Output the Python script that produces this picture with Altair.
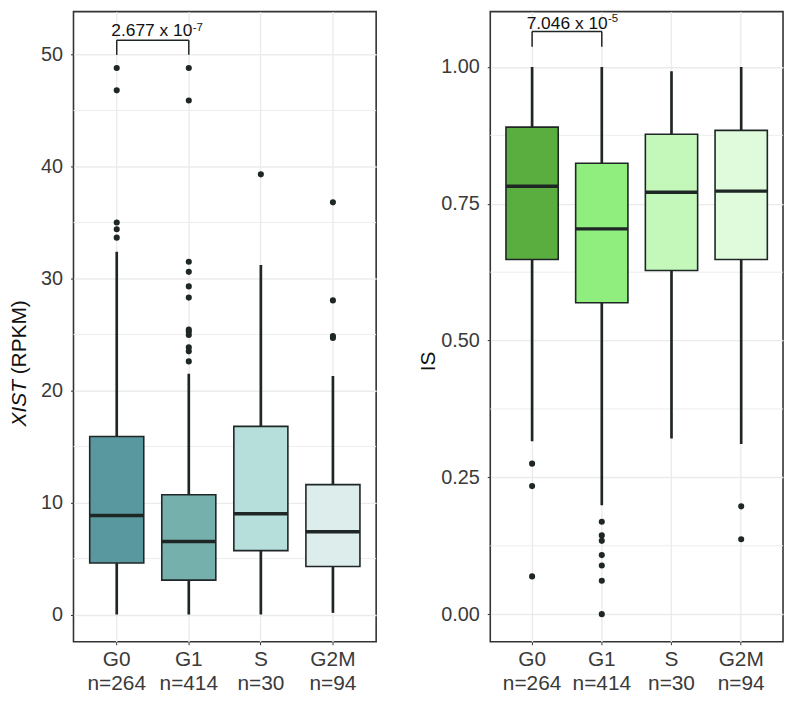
import altair as alt
import pandas as pd

# ---------------- data ----------------
cats = ["G0", "G1", "S", "G2M"]
counts = [264, 414, 30, 94]

# XIST (RPKM) box statistics
xist_low = [0.0, 0.0, 0.0, 0.15]
xist_q1 = [4.6, 3.07, 5.71, 4.29]
xist_med = [8.84, 6.52, 9.0, 7.39]
xist_q3 = [15.9, 10.7, 16.8, 11.6]
xist_high = [32.4, 21.5, 31.2, 21.3]
xist_out_G0 = [48.8, 46.8, 35.0, 34.4, 33.65]
xist_out_G1 = [48.8, 45.9, 31.5, 30.6, 29.3, 28.3, 25.45, 25.25, 24.96, 23.85, 23.5, 22.6]
xist_out_S = [39.3]
xist_out_G2M = [36.8, 28.05, 24.87, 24.7]
xist_major = [0, 10, 20, 30, 40, 50]
xist_minor = [5, 15, 25, 35, 45]
xist_p_main = "2.677 x 10"
xist_p_exp = "-7"

# IS box statistics
is_low = [0.316, 0.199, 0.321, 0.311]
is_q1 = [0.648, 0.569, 0.628, 0.648]
is_med = [0.782, 0.704, 0.771, 0.773]
is_q3 = [0.890, 0.824, 0.877, 0.884]
is_high = [1.0, 1.0, 0.992, 1.0]
is_out_G0 = [0.275, 0.234, 0.069]
is_out_G1 = [0.169, 0.144, 0.134, 0.108, 0.089, 0.061, 0.0]
is_out_S = []
is_out_G2M = [0.197, 0.137]
is_major = [0.0, 0.25, 0.5, 0.75, 1.0]
is_minor = [0.125, 0.375, 0.625, 0.875]
is_p_main = "7.046 x 10"
is_p_exp = "-5"

xist_colors = ["#5A98A0", "#75B0AD", "#B6DEDA", "#DCEDEB"]
is_colors = ["#5AAE40", "#90EE7E", "#C3F8BA", "#E0FBDB"]

DARK = "#1f2626"
FONT = "Liberation Sans"
PAD_IN, PAD_OUT = 0.25, 0.225
H = 635

label_expr = " : ".join(
    f"datum.label == '{c}' ? ['{c}', 'n={n}']" for c, n in zip(cats, counts)
) + " : datum.label"


def panel(name, low, q1, med, q3, high, outs, colors, major, minor, fmt, domain,
          br_top, br_bot, txt_y, sup_y, p_main, p_exp, width, height,
          ytitle=None, title_x=0, title_y=0):
    box = pd.DataFrame({name: cats, "low": low, "q1": q1, "med": med, "q3": q3, "high": high})
    pts = pd.DataFrame(
        [{name: c, "v": v} for c, vals in zip(cats, outs) for v in vals]
    )
    mn = pd.DataFrame({"v": minor})
    bandw = width / (len(cats) - PAD_IN + 2 * PAD_OUT) * (1 - PAD_IN)

    xscale = alt.Scale(domain=cats, paddingInner=PAD_IN, paddingOuter=PAD_OUT)
    xaxis = alt.Axis(title=None, labelExpr=label_expr, labelFontSize=21,
                     labelLineHeight=24, labelPadding=4, labelAngle=0,
                     grid=True, tickSize=3)

    def X(f):
        return alt.X(f, type="nominal", scale=xscale, axis=xaxis)

    ykw = dict(values=major, format=fmt, labelFontSize=20, labelPadding=8,
               tickSize=3, grid=True)
    if ytitle:
        yaxis = alt.Axis(title=ytitle, titleX=title_x, titleY=title_y, titleAngle=270,
                         titleBaseline="alphabetic", titleFontSize=21,
                         titleFontWeight="normal", titleAlign="center", **ykw)
    else:
        yaxis = alt.Axis(title=None, **ykw)
    yscale = alt.Scale(domain=domain, nice=False, zero=False)

    def Y(f):
        return alt.Y(f, type="quantitative", scale=yscale, axis=yaxis)

    base = alt.Chart(box)
    grid_minor = alt.Chart(mn).mark_rule(color="#EDEDED", strokeWidth=1.0).encode(y=Y("v"))
    whisk = base.mark_rule(color=DARK, strokeWidth=2.7).encode(x=X(name), y=Y("low"), y2="high")
    bars = base.mark_bar(stroke=DARK, strokeWidth=1.6, opacity=1).encode(
        x=X(name), y=Y("q1"), y2="q3",
        color=alt.Color(f"{name}:N", scale=alt.Scale(domain=cats, range=colors), legend=None),
    )
    meds = base.mark_tick(orient="horizontal", size=bandw, thickness=3.4, color=DARK,
                          opacity=1).encode(x=X(name), y=Y("med"))
    dots = alt.Chart(pts).mark_circle(size=38, color=DARK, opacity=1).encode(x=X(name), y=Y("v"))

    br = pd.DataFrame({"a": [cats[0]], "b": [cats[1]], "top": [br_top], "bot": [br_bot],
                       "ty": [txt_y], "sy": [sup_y], "pm": [p_main], "pe": [p_exp]})
    bch = alt.Chart(br)
    hbar = bch.mark_rule(color=DARK, strokeWidth=1.5).encode(x=X("a"), x2="b", y=Y("top"))
    vl = bch.mark_rule(color=DARK, strokeWidth=1.5).encode(x=X("a"), y=Y("bot"), y2="top")
    vr = bch.mark_rule(color=DARK, strokeWidth=1.5).encode(x=X("b"), y=Y("bot"), y2="top")
    tmain = bch.mark_text(align="left", baseline="alphabetic", dx=-5.5, fontSize=17.5,
                          font=FONT, color="#111").encode(x=X("a"), y=Y("ty"), text="pm:N")
    tsup = bch.mark_text(align="left", baseline="alphabetic", dx=-5.5 + 82, fontSize=11.5,
                         font=FONT, color="#111").encode(x=X("a"), y=Y("sy"), text="pe:N")

    layers = [grid_minor, whisk, bars, meds, dots, hbar, vl, vr, tmain, tsup]
    return alt.layer(*layers).properties(width=width, height=height)


left = panel("cat_xist", xist_low, xist_q1, xist_med, xist_q3, xist_high,
             [xist_out_G0, xist_out_G1, xist_out_S, xist_out_G2M], xist_colors,
             xist_major, xist_minor, "d", [-2.43, 53.83],
             51.28, 49.97, 51.63, 52.09, xist_p_main, xist_p_exp, 305, H)

# italic gene-name y title for the left panel
ytitle_italic = "XIST"
ytitle_rest = "(RPKM)"
t1 = alt.Chart(pd.DataFrame({"t": [ytitle_italic]})).mark_text(
    angle=270, align="left", baseline="alphabetic", fontSize=21, font=FONT,
    fontStyle="italic", color="#111").encode(text="t:N", x=alt.value(-48), y=alt.value(418))
t2 = alt.Chart(pd.DataFrame({"t": [ytitle_rest]})).mark_text(
    angle=270, align="left", baseline="alphabetic", fontSize=21, font=FONT,
    color="#111").encode(text="t:N", x=alt.value(-48), y=alt.value(365.5))
left = alt.layer(left, t1, t2)

right = panel("cat_is", is_low, is_q1, is_med, is_q3, is_high,
              [is_out_G0, is_out_G1, is_out_S, is_out_G2M], is_colors,
              is_major, is_minor, ".2f", [-0.0504, 1.101],
              1.0649, 1.037, 1.0695, 1.0815, is_p_main, is_p_exp, 295, H,
              ytitle="IS", title_x=-56.5, title_y=352)

chart = alt.hconcat(left, right, spacing=38).resolve_scale(
    color="independent", x="independent", y="independent"
).properties(
    padding={"left": 0, "top": 0, "right": 0, "bottom": 0}
).configure_view(stroke="#333333", strokeWidth=1.6).configure_axis(
    labelFont=FONT, titleFont=FONT, labelColor="#3a3a3a", titleColor="#111",
    gridColor="#EBEBEB", gridWidth=1.4, tickColor="#333333", tickWidth=1,
    domain=False,
)

chart.save("out.html", embed_options={"renderer": "svg", "actions": False})
